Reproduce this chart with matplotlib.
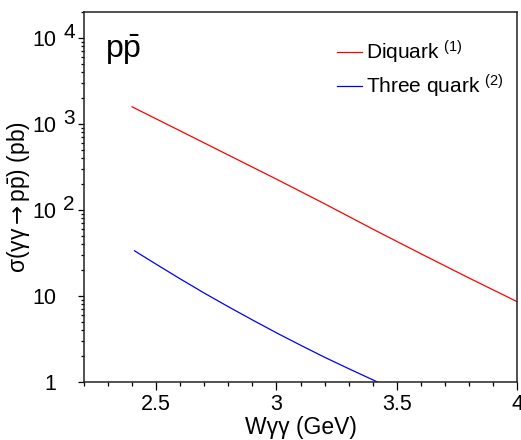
import numpy as np
import matplotlib
matplotlib.use("Agg")
import matplotlib.pyplot as plt
from matplotlib.ticker import MultipleLocator, LogLocator, FixedLocator, NullFormatter, FuncFormatter

plt.rcParams['font.family'] = ['Liberation Sans', 'DejaVu Sans']
plt.rcParams['mathtext.fontset'] = 'custom'
plt.rcParams['mathtext.rm'] = 'Liberation Sans'
plt.rcParams['mathtext.it'] = 'Liberation Sans'
plt.rcParams['mathtext.sf'] = 'DejaVu Sans'

# cross sections (pb) vs W_gamma-gamma (GeV)
w_diquark = [2.40, 2.60, 2.80, 3.00, 3.20, 3.40, 3.60, 3.80, 4.00]
sig_diquark = [1580, 830, 435, 228, 118, 60, 31, 16.2, 8.6]

w_three = [2.41, 2.50, 2.60, 2.70, 2.80, 2.90, 3.00, 3.10, 3.20, 3.30, 3.42]
sig_three = [33.5, 23.4, 15.8, 10.8, 7.5, 5.27, 3.73, 2.68, 1.94, 1.43, 1.0]

labels = ['Diquark $^{(1)}$', 'Three quark $^{(2)}$']
decades = [1, 10, 100, 1000, 10000]

fig = plt.figure(figsize=(5.21, 4.40), dpi=100)
ax = fig.add_axes([84/521, 58/440, 433/521, 370/440])

l1, = ax.plot(w_diquark, sig_diquark, color='#ff0000', lw=0.9)
l2, = ax.plot(w_three, sig_three, color='#0000ff', lw=0.9)

ax.set_yscale('log')
ax.set_xlim(2.2, 4.0)
ax.set_ylim(1, 2.0e4)

# x axis
ax.xaxis.set_major_locator(MultipleLocator(0.5))
ax.xaxis.set_minor_locator(MultipleLocator(0.1))
ax.xaxis.set_major_formatter(FuncFormatter(lambda v, p: ('%g' % v) if v > 2.3 else ''))

# y axis: "10" labels with full-size exponents added separately
ax.yaxis.set_major_locator(FixedLocator(decades))
ax.yaxis.set_minor_locator(LogLocator(base=10, subs=np.arange(2, 10)))
ax.yaxis.set_minor_formatter(NullFormatter())
ax.yaxis.set_major_formatter(FuncFormatter(lambda v, p: '1' if v < 5 else '10'))
for d in decades[2:]:
    ax.annotate(str(int(round(np.log10(d)))), xy=(0, d), xycoords=('axes fraction', 'data'),
                xytext=(-21, 0), textcoords='offset pixels',
                ha='left', va='baseline', fontsize=15)

ax.tick_params(axis='both', which='both', direction='out', width=0.9,
               labelsize=15.5, top=False, right=False)
ax.tick_params(axis='x', which='major', length=5.5, pad=3)
ax.tick_params(axis='x', which='minor', length=3)
ax.tick_params(axis='y', which='major', length=4, pad=16)
ax.tick_params(axis='y', which='minor', length=2.4)

for s in ax.spines.values():
    s.set_linewidth(1.1)
    s.set_color('#222222')

ax.set_xlabel('W\u03b3\u03b3 (GeV)', fontsize=16.5, labelpad=1)
ax.set_ylabel(r'$\sigma(\gamma\gamma\mathsf{\rightarrow} p\bar{p})$ (pb)', fontsize=16.5, labelpad=0)

ax.text(0.048, 0.875, r'$p\bar{p}$', transform=ax.transAxes, fontsize=23,
        ha='left', va='baseline')

ax.legend([l1, l2], labels, loc='upper left', bbox_to_anchor=(0.584, 0.927),
          frameon=False, fontsize=15, handlelength=1.2, handletextpad=0.2,
          labelspacing=0.3, borderpad=0, borderaxespad=0)

fig.savefig('out.png', dpi=100)
